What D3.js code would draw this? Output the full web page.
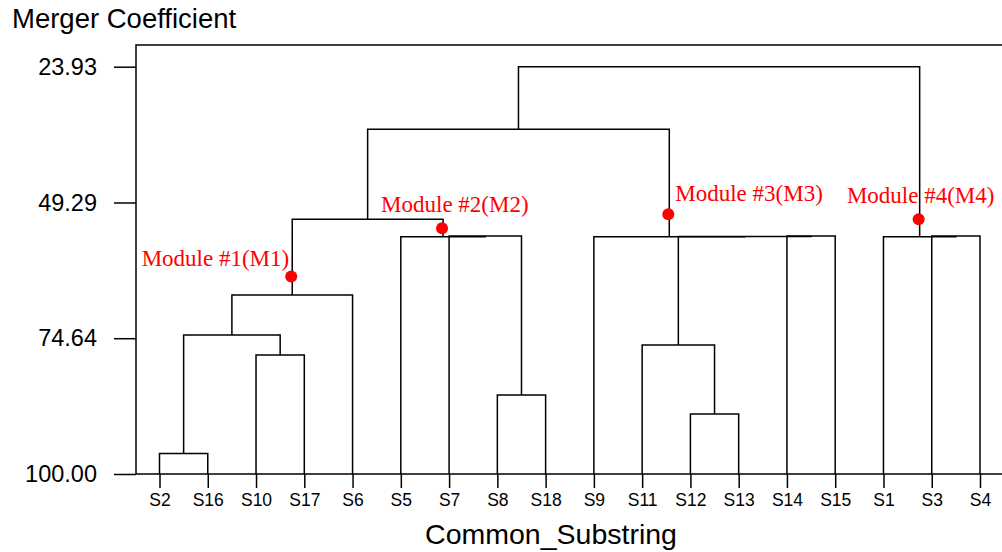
<!DOCTYPE html>
<html>
<head>
<meta charset="utf-8">
<script src="https://cdn.jsdelivr.net/npm/d3@7"></script>
<style>
  body { margin: 0; background: #fff; }
</style>
</head>
<body>
<script>
const width = 1002, height = 552;

// leaf order along the bottom
const leaves = ["S2","S16","S10","S17","S6","S5","S7","S8","S18","S9","S11","S12","S13","S14","S15","S1","S3","S4"];

// merges: [left, right, coefficient]; numbers refer to earlier merges
const merges = [
  ["S2", "S16", 96.15],   // 0
  ["S10", "S17", 77.78],  // 1
  [0, 1, 74.04],          // 2
  [2, "S6", 66.57],       // 3
  ["S8", "S18", 85.25],   // 4
  ["S7", 4, 55.55],       // 5
  ["S5", 5, 55.7],        // 6
  [3, 6, 52.4],           // 7
  ["S12", "S13", 88.8],   // 8
  ["S11", 8, 75.93],      // 9
  ["S14", "S15", 55.55],  // 10
  [9, 10, 55.62],         // 11
  ["S9", 11, 55.7],       // 12
  [7, 12, 35.6],          // 13
  ["S3", "S4", 55.55],    // 14
  ["S1", 14, 55.7],       // 15
  [13, 15, 23.93]         // 16
];

const yTicks = [23.93, 49.29, 74.64, 100.00];

// module markers
const moduleNames = ["Module #1(M1)", "Module #2(M2)", "Module #3(M3)", "Module #4(M4)"];
const moduleNodes = [3, 6, 12, 15];
const moduleValues = [63.1, 54.1, 51.5, 52.4];

// where each label sits relative to its dot
const labelLayout = [
  {dx: -2, dy: -10, anchor: "end"},
  {dx: -61, dy: -16, anchor: "start"},
  {dx: 7, dy: -13, anchor: "start"},
  {dx: 2, dy: -16, anchor: "middle"}
];

const plotLeft = 136, plotTop = 45, plotBottom = 474;

const x = d3.scalePoint()
    .domain(leaves)
    .range([159.5, 980]);

const y = d3.scaleLinear()
    .domain([23.93, 100])
    .range([66.7, plotBottom]);

const svg = d3.select("body").append("svg")
    .attr("width", width)
    .attr("height", height);

svg.append("rect")
    .attr("width", width)
    .attr("height", height)
    .attr("fill", "white");

// frame (top, left, bottom)
svg.append("path")
    .attr("d", `M${width},${plotTop}H${plotLeft}V${plotBottom}H${width}`)
    .attr("fill", "none")
    .attr("stroke", "black")
    .attr("stroke-width", 1.5);

// y axis
const yAxis = d3.axisLeft(y)
    .tickValues(yTicks)
    .tickFormat(d3.format(".2f"))
    .tickSize(22)
    .tickPadding(17);

const gy = svg.append("g")
    .attr("transform", `translate(${plotLeft},0)`)
    .call(yAxis);
gy.select(".domain").remove();
gy.selectAll(".tick line").attr("stroke", "black").attr("stroke-width", 1.5);
gy.selectAll(".tick text")
    .attr("font-family", "Liberation Sans, Arial, sans-serif")
    .attr("font-size", 23.5)
    .attr("fill", "black");

// x axis (leaf ticks)
const xAxis = d3.axisBottom(x)
    .tickSize(14)
    .tickPadding(6);

const gx = svg.append("g")
    .attr("transform", `translate(0,${plotBottom})`)
    .call(xAxis);
gx.select(".domain").remove();
gx.selectAll(".tick line").attr("stroke", "black").attr("stroke-width", 1.5);
gx.selectAll(".tick text")
    .attr("font-family", "Liberation Sans, Arial, sans-serif")
    .attr("font-size", 17.5)
    .attr("fill", "black");

// build the dendrogram
const nodes = [];
function getNode(ref) {
  if (typeof ref === "string") return {x: x(ref), h: 100};
  return nodes[ref];
}

const links = svg.append("g")
    .attr("fill", "none")
    .attr("stroke", "black")
    .attr("stroke-width", 1.5);

merges.forEach(function(m) {
  const a = getNode(m[0]);
  const b = getNode(m[1]);
  const h = m[2];
  nodes.push({x: (a.x + b.x) / 2, h: h});
  links.append("path")
      .attr("d", `M${a.x},${y(a.h)}V${y(h)}H${b.x}V${y(b.h)}`);
});

// module dots + labels
moduleNodes.forEach(function(n, i) {
  const cx = nodes[n].x - 1;
  const cy = y(moduleValues[i]);
  svg.append("circle")
      .attr("cx", cx)
      .attr("cy", cy)
      .attr("r", 6)
      .attr("fill", "red");
  svg.append("text")
      .attr("x", cx + labelLayout[i].dx)
      .attr("y", cy + labelLayout[i].dy)
      .attr("text-anchor", labelLayout[i].anchor)
      .attr("font-family", "Liberation Serif, Times New Roman, serif")
      .attr("font-size", 23)
      .attr("fill", "red")
      .text(moduleNames[i]);
});

// titles
svg.append("text")
    .attr("x", 12)
    .attr("y", 28)
    .attr("font-family", "Liberation Sans, Arial, sans-serif")
    .attr("font-size", 27.5)
    .attr("fill", "black")
    .text("Merger Coefficient");

svg.append("text")
    .attr("x", 551)
    .attr("y", 544)
    .attr("text-anchor", "middle")
    .attr("font-family", "Liberation Sans, Arial, sans-serif")
    .attr("font-size", 28.5)
    .attr("fill", "black")
    .text("Common_Substring");
</script>
</body>
</html>
